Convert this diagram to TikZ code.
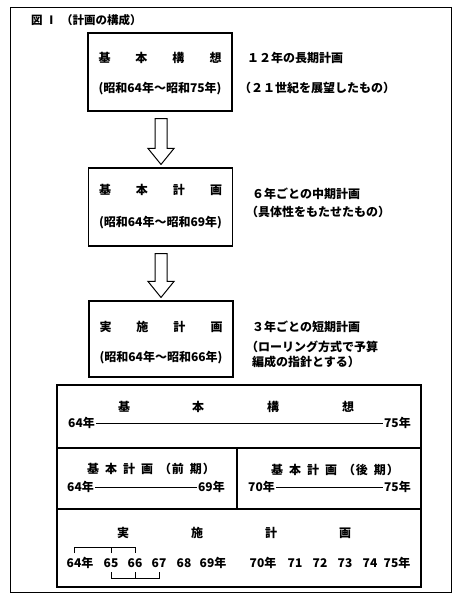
\documentclass[tikz,border=0pt]{standalone}
\usepackage{fontspec}
\newfontfamily\jp{Noto Sans CJK JP}
\usetikzlibrary{calc}
\begin{document}
\begin{tikzpicture}[x=1pt,y=-1pt,
  every node/.style={font=\jp\bfseries\fontsize{12}{14}\selectfont, inner sep=1pt},
  boxnode/.style={draw, line width=1.1pt, minimum width=144pt, minimum height=78pt},
  frame/.style={draw, line width=1pt},
  tbl/.style={draw, line width=1.1pt},
  yrline/.style={draw, line width=0.7pt},
  brk/.style={draw, line width=1pt},
  blockarrow/.style={draw, line width=1pt, fill=white},
  note/.style={anchor=west}]
\useasboundingbox (0,0) rectangle (460,600);
\fill[white] (0,0) rectangle (460,600);
% outer frame
\draw[frame] (10,7) rectangle (451,592);
\node[anchor=west, font=\jp\bfseries\fontsize{11.5}{13}\selectfont] (title) at (30,20) {図\hspace{3pt}Ⅰ\hspace{4pt}（計画の構成）};

% boxes
\node[boxnode] (b1) at (160,72) {};
\node (b1t) at (160,58) {基\hspace{25pt}本\hspace{25pt}構\hspace{25pt}想};
\node (b1d) at (160,89) {(昭和64年～昭和75年)};
\node[note] (n1a) at (246,58) {１２年の長期計画};
\node[note] (n1b) at (238,88) {（２１世紀を展望したもの）};

\node[boxnode] (b2) at (160.5,207) {};
\node (b2t) at (160.5,190) {基\hspace{25pt}本\hspace{25pt}計\hspace{25pt}画};
\node (b2d) at (160.5,223) {(昭和64年～昭和69年)};
\node[note] (n2a) at (251,194) {６年ごとの中期計画};
\node[note] (n2b) at (245,212) {（具体性をもたせたもの）};

\node[boxnode, minimum height=76pt] (b3) at (161,339) {};
\node (b3t) at (161,327) {実\hspace{25pt}施\hspace{25pt}計\hspace{25pt}画};
\node (b3d) at (161,358) {(昭和64年～昭和66年)};
\node[note] (n3a) at (251,327) {３年ごとの短期計画};
\node[note] (n3b) at (245,347) {（ローリング方式で予算};
\node[note] (n3c) at (251,362) {編成の指針とする）};

% block arrows
\newcommand\blkarrow[2]{%
  \draw[blockarrow] ($(#1)+(-6,7)$) -- ($(#1)+(6,7)$) -- ($(#2)+(6,-19)$) -- ($(#2)+(13,-19)$)
    -- ($(#2)+(0,-3)$) -- ($(#2)+(-13,-19)$) -- ($(#2)+(-6,-19)$) -- cycle;}
\coordinate (a1s) at ($(b1.south)+(1,0)$);
\coordinate (a1e) at ($(b2.north)+(0.5,0)$);
\blkarrow{a1s}{a1e}
\coordinate (a2s) at ($(b2.south)+(0.5,0)$);
\coordinate (a2e) at (b3.north);
\blkarrow{a2s}{a2e}

% table
\draw[tbl] (57,385) rectangle (421,587);
\draw[tbl] (57,448) -- (421,448);
\draw[tbl] (57,509) -- (421,509);
\draw[tbl] (237,448) -- (237,509);

\node (h1) at (236,407) {基\hspace{62pt}本\hspace{63pt}構\hspace{63pt}想};
\node[anchor=west] (t64) at (67,423) {64年};
\node[anchor=east] (t75) at (412,423) {75年};
\draw[yrline] (t64.east) -- (t75.west);

\node (h2) at (151,469) {基\hspace{6pt}本\hspace{6pt}計\hspace{6pt}画\hspace{6pt}（\hspace{1pt}前\hspace{6pt}期\hspace{1pt}）};
\node (h3) at (335,470) {基\hspace{6pt}本\hspace{6pt}計\hspace{6pt}画\hspace{6pt}（\hspace{1pt}後\hspace{6pt}期\hspace{1pt}）};
\node[anchor=west] (u64) at (66,487) {64年};
\node[anchor=east] (u69) at (226,487) {69年};
\draw[yrline] (u64.east) -- (u69.west);
\node[anchor=west] (v70) at (247,487) {70年};
\node[anchor=east] (v75) at (412,487) {75年};
\draw[yrline] (v70.east) -- (v75.west);

\node (h4) at (234,533) {実\hspace{62pt}施\hspace{62pt}計\hspace{62pt}画};
\node (y64) at (80,563) {64年};
\node (y65) at (111,563) {65};
\node (y66) at (135,563) {66};
\node (y67) at (159,563) {67};
\node (y68) at (184,563) {68};
\node (y69) at (213,563) {69年};
\node (y70) at (263,563) {70年};
\node (y71) at (295,563) {71};
\node (y72) at (320,563) {72};
\node (y73) at (345,563) {73};
\node (y74) at (370,563) {74};
\node (y75) at (397,563) {75年};

\draw[brk] ($(y64)+(-6,-10)$) -- ++(0,-6) -| ($(y66)+(0,-10)$);
\draw[brk] ($(y65)+(0,-10)$) -- ++(0,-6);
\draw[brk] ($(y65)+(0,9)$) -- ++(0,6) -| ($(y67)+(0,9)$);
\draw[brk] ($(y66)+(0,9)$) -- ++(0,6);
\end{tikzpicture}
\end{document}
